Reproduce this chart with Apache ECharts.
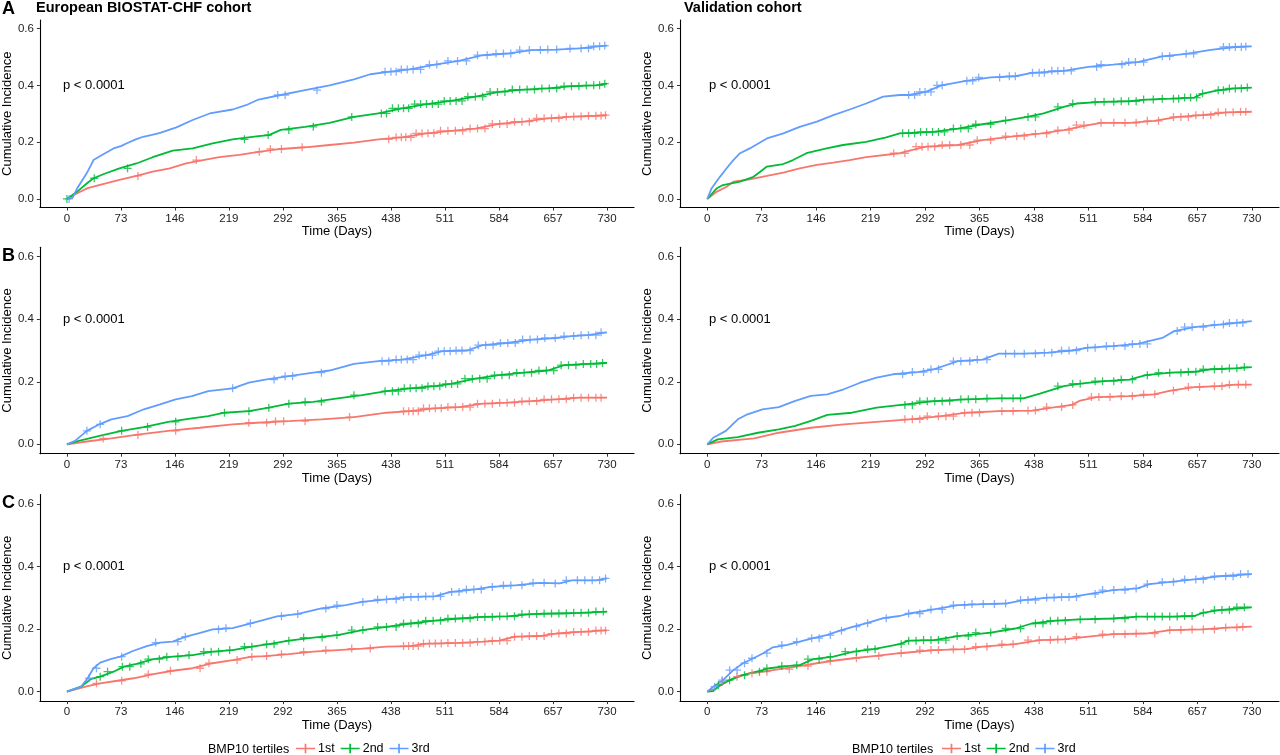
<!DOCTYPE html>
<html>
<head>
    <meta charset="utf-8">
    <title>BMP10 tertiles - cumulative incidence</title>
</head>
<body style="margin:0px;padding:0px;background:#fff;">
    <div id="main" style="width:1280px;height:755px;"></div>
    <script src="https://cdn.jsdelivr.net/npm/echarts@6.0.0/dist/echarts.min.js"></script>
    <script type="text/javascript">
    // tick labels
    var dayTicks = [0, 73, 146, 219, 292, 365, 438, 511, 584, 657, 730];
    var incTicks = [0, 0.2, 0.4, 0.6];
    var groups = ['1st', '2nd', '3rd'];

    // curves: [day, cumulative incidence]
    // row A
    var biostatA_1st = [[0,0],[14,0.020],[28,0.038],[50,0.053],[71,0.067],[94,0.081],[116,0.096],[139,0.108],[161,0.125],[184,0.137],[206,0.147],[233,0.155],[259,0.166],[289,0.176],[322,0.182],[355,0.190],[388,0.198],[421,0.210],[453,0.217],[486,0.231],[519,0.240],[552,0.248],[584,0.264],[617,0.272],[650,0.284],[683,0.290],[715,0.293],[730,0.295]];
    var biostatA_2nd = [[0,0],[14,0.026],[28,0.057],[36,0.073],[50,0.088],[71,0.108],[94,0.125],[116,0.147],[143,0.170],[170,0.178],[197,0.196],[224,0.210],[259,0.221],[273,0.225],[289,0.243],[322,0.254],[355,0.268],[388,0.289],[421,0.301],[453,0.319],[486,0.334],[519,0.345],[552,0.360],[584,0.377],[617,0.385],[650,0.389],[683,0.397],[715,0.400],[730,0.406]];
    var biostatA_3rd = [[0,0],[8,0.006],[14,0.038],[28,0.096],[36,0.137],[45,0.151],[63,0.178],[73,0.186],[81,0.196],[93,0.210],[103,0.219],[115,0.226],[126,0.233],[148,0.252],[170,0.278],[193,0.301],[224,0.315],[242,0.330],[259,0.350],[289,0.366],[322,0.383],[355,0.400],[388,0.421],[410,0.439],[437,0.448],[464,0.456],[497,0.473],[530,0.486],[562,0.506],[595,0.512],[628,0.524],[661,0.526],[693,0.530],[721,0.538],[730,0.540]];
    var validA_1st = [[0,0],[13,0.026],[26,0.043],[35,0.061],[57,0.069],[80,0.081],[102,0.093],[124,0.108],[147,0.120],[169,0.128],[191,0.137],[213,0.147],[258,0.161],[293,0.184],[336,0.190],[369,0.207],[413,0.221],[446,0.230],[478,0.242],[511,0.260],[528,0.268],[566,0.268],[599,0.275],[631,0.289],[664,0.295],[697,0.305],[730,0.307]];
    var validA_2nd = [[0,0],[13,0.038],[21,0.049],[44,0.061],[62,0.078],[71,0.096],[80,0.114],[102,0.123],[115,0.137],[133,0.161],[160,0.178],[182,0.190],[213,0.201],[240,0.217],[258,0.231],[303,0.236],[336,0.248],[369,0.263],[402,0.277],[429,0.289],[451,0.301],[478,0.324],[495,0.336],[528,0.342],[566,0.344],[588,0.350],[621,0.353],[653,0.357],[664,0.371],[686,0.383],[708,0.389],[730,0.392]];
    var validA_3rd = [[0,0],[6,0.038],[17,0.078],[26,0.108],[35,0.137],[44,0.161],[57,0.178],[80,0.213],[102,0.231],[124,0.254],[147,0.272],[169,0.295],[191,0.315],[213,0.336],[236,0.360],[258,0.366],[271,0.366],[293,0.377],[314,0.400],[347,0.416],[380,0.428],[413,0.432],[435,0.444],[478,0.451],[511,0.465],[544,0.473],[577,0.482],[610,0.502],[642,0.511],[675,0.525],[708,0.535],[730,0.537]];
    // row B
    var biostatB_1st = [[0,0],[27,0.009],[60,0.019],[93,0.030],[137,0.043],[180,0.053],[224,0.064],[257,0.069],[300,0.074],[344,0.080],[388,0.087],[432,0.101],[464,0.106],[497,0.115],[530,0.119],[562,0.130],[595,0.133],[628,0.138],[661,0.144],[693,0.149],[730,0.149]];
    var biostatB_2nd = [[0,0],[16,0.011],[44,0.027],[74,0.043],[104,0.055],[137,0.072],[169,0.083],[191,0.090],[213,0.101],[246,0.106],[273,0.117],[300,0.130],[333,0.136],[366,0.147],[399,0.157],[432,0.170],[464,0.179],[497,0.186],[519,0.193],[552,0.210],[584,0.221],[617,0.229],[650,0.236],[672,0.253],[704,0.257],[730,0.260]];
    var biostatB_3rd = [[0,0],[11,0.011],[27,0.043],[44,0.064],[60,0.080],[82,0.090],[104,0.112],[126,0.128],[147,0.144],[169,0.154],[191,0.170],[224,0.179],[246,0.197],[268,0.207],[300,0.218],[333,0.229],[355,0.236],[388,0.257],[421,0.266],[453,0.271],[486,0.285],[508,0.298],[541,0.300],[562,0.317],[595,0.324],[628,0.335],[661,0.340],[682,0.346],[704,0.349],[730,0.358]];
    var validB_1st = [[0,0],[19,0.009],[63,0.019],[96,0.037],[139,0.053],[183,0.064],[227,0.072],[271,0.080],[314,0.090],[347,0.101],[391,0.106],[435,0.108],[467,0.119],[489,0.126],[500,0.140],[522,0.151],[566,0.154],[599,0.160],[621,0.172],[653,0.183],[686,0.186],[708,0.191],[730,0.191]];
    var validB_2nd = [[0,0],[14,0.016],[41,0.023],[68,0.037],[96,0.048],[118,0.059],[139,0.075],[161,0.094],[194,0.101],[227,0.117],[260,0.126],[304,0.138],[347,0.144],[391,0.147],[424,0.147],[446,0.162],[478,0.186],[500,0.194],[533,0.202],[566,0.207],[588,0.221],[621,0.229],[653,0.232],[675,0.240],[708,0.243],[730,0.247]];
    var validB_3rd = [[0,0],[8,0.021],[25,0.043],[41,0.080],[52,0.094],[74,0.112],[96,0.119],[118,0.139],[139,0.155],[161,0.160],[183,0.176],[205,0.197],[227,0.213],[249,0.224],[282,0.231],[304,0.240],[336,0.266],[369,0.271],[391,0.290],[424,0.290],[457,0.293],[489,0.300],[511,0.309],[544,0.314],[577,0.321],[610,0.340],[626,0.362],[653,0.375],[686,0.383],[708,0.388],[730,0.394]];
    // row C
    var biostatC_1st = [[0,0],[28,0.018],[45,0.027],[68,0.035],[90,0.043],[117,0.056],[143,0.067],[170,0.075],[197,0.091],[224,0.101],[250,0.112],[268,0.114],[300,0.120],[333,0.128],[366,0.133],[399,0.138],[432,0.144],[464,0.146],[486,0.154],[530,0.156],[562,0.160],[584,0.163],[606,0.176],[639,0.178],[661,0.186],[693,0.191],[730,0.196]];
    var biostatC_2nd = [[0,0],[19,0.016],[32,0.040],[45,0.048],[63,0.064],[77,0.080],[94,0.089],[117,0.104],[143,0.112],[170,0.117],[197,0.128],[224,0.133],[250,0.144],[273,0.152],[300,0.163],[333,0.173],[366,0.181],[399,0.197],[432,0.207],[464,0.218],[497,0.227],[530,0.234],[562,0.239],[595,0.241],[628,0.248],[661,0.250],[693,0.252],[730,0.256]];
    var biostatC_3rd = [[0,0],[19,0.016],[28,0.043],[36,0.075],[45,0.093],[59,0.104],[72,0.112],[90,0.131],[108,0.146],[126,0.157],[143,0.160],[161,0.176],[179,0.187],[197,0.199],[224,0.203],[250,0.219],[284,0.241],[311,0.248],[344,0.266],[377,0.277],[399,0.287],[432,0.295],[464,0.303],[497,0.305],[519,0.319],[552,0.327],[573,0.335],[606,0.340],[639,0.348],[666,0.346],[682,0.356],[715,0.356],[730,0.362]];
    var validC_1st = [[0,0],[12,0.011],[26,0.032],[39,0.048],[57,0.059],[75,0.064],[97,0.072],[124,0.082],[147,0.091],[169,0.099],[196,0.107],[223,0.114],[258,0.123],[304,0.133],[347,0.136],[369,0.144],[413,0.152],[446,0.165],[478,0.167],[511,0.176],[544,0.184],[588,0.186],[621,0.197],[664,0.199],[697,0.205],[730,0.208]];
    var validC_2nd = [[0,0],[8,0.002],[17,0.021],[30,0.037],[48,0.053],[66,0.064],[84,0.075],[106,0.082],[124,0.085],[142,0.104],[169,0.112],[196,0.128],[223,0.136],[258,0.152],[270,0.163],[304,0.165],[336,0.178],[380,0.189],[413,0.202],[435,0.218],[467,0.227],[500,0.231],[544,0.234],[577,0.240],[621,0.240],[653,0.242],[664,0.252],[686,0.261],[730,0.270]];
    var validC_3rd = [[0,0],[8,0.016],[21,0.037],[35,0.069],[48,0.091],[62,0.107],[75,0.123],[88,0.142],[106,0.149],[124,0.160],[142,0.171],[160,0.181],[178,0.195],[196,0.208],[214,0.219],[236,0.235],[258,0.242],[271,0.250],[304,0.263],[336,0.277],[369,0.280],[402,0.282],[424,0.293],[457,0.301],[489,0.303],[511,0.312],[544,0.325],[577,0.330],[593,0.344],[621,0.351],[653,0.359],[686,0.369],[730,0.376]];

    // censoring times (days) read from the "+" marks
    var biostatA_1st_cens = [96,175,260,275,290,318,435,445,452,458,465,472,480,488,496,505,515,525,535,545,555,565,575,585,595,605,615,625,635,645,655,665,675,685,695,705,715,722,728];
    var biostatA_2nd_cens = [0,37,82,240,272,300,333,385,425,432,440,448,455,462,470,478,486,494,502,510,518,526,534,542,552,562,572,582,592,602,612,622,632,642,652,662,672,682,692,702,712,720,727];
    var biostatA_3rd_cens = [3,285,295,338,430,438,445,452,460,468,478,490,500,515,528,540,555,568,580,590,600,612,625,640,650,662,680,695,705,712,720,727];
    var validA_1st_cens = [250,265,280,288,296,305,315,325,340,352,362,380,400,415,425,440,455,470,485,495,505,528,545,560,575,590,605,625,635,645,655,665,675,685,695,705,715,722];
    var validA_2nd_cens = [262,270,278,286,294,302,310,318,330,340,350,360,380,400,430,440,470,490,520,532,545,555,565,575,585,598,610,625,632,640,648,656,664,685,692,700,708,716,724];
    var validA_3rd_cens = [270,278,285,292,300,308,315,348,356,364,392,405,413,436,445,452,462,470,478,488,522,528,556,565,574,585,610,620,642,652,692,700,708,716,722];
    var biostatB_1st_cens = [49,96,147,246,270,282,293,322,382,455,462,468,475,482,490,498,506,515,525,535,545,555,565,575,585,595,605,615,625,635,645,655,665,675,685,695,705,715,722];
    var biostatB_2nd_cens = [74,109,147,213,246,273,300,322,344,388,430,440,448,456,464,472,480,488,496,504,512,520,528,538,548,558,568,578,588,598,608,618,628,638,648,658,668,678,688,698,708,716,724];
    var biostatB_3rd_cens = [27,45,224,280,295,305,344,426,435,445,452,460,468,476,485,494,502,510,518,526,534,545,556,566,576,586,596,606,616,626,636,646,660,672,685,695,705,715,722];
    var validB_1st_cens = [265,275,285,295,310,320,330,345,355,365,395,410,430,440,455,475,490,515,525,540,555,570,585,600,625,645,660,680,690,700,712,722];
    var validB_2nd_cens = [265,275,285,295,305,315,325,340,350,360,375,395,410,420,470,490,500,520,530,545,555,570,590,605,620,635,645,655,665,680,690,700,710,720];
    var validB_3rd_cens = [262,275,290,300,310,330,340,352,362,375,400,412,425,440,452,462,475,485,495,510,520,535,545,560,570,580,590,630,640,650,665,680,692,700,710,718];
    var biostatC_1st_cens = [40,74,110,140,180,192,230,250,270,290,320,350,385,410,455,462,468,475,482,490,498,506,515,525,535,545,555,565,575,585,595,605,615,625,635,645,655,665,675,685,695,705,715,722,728];
    var biostatC_2nd_cens = [45,55,75,85,100,110,125,135,150,165,185,195,205,220,240,250,270,280,300,320,345,365,385,400,420,432,445,455,465,475,485,495,505,515,525,535,545,555,565,575,585,595,605,615,625,635,645,655,665,675,685,695,705,715,725];
    var biostatC_3rd_cens = [30,40,74,120,150,160,205,215,248,290,312,350,365,400,420,432,445,455,465,475,485,495,505,520,530,540,550,560,575,590,600,615,630,645,660,675,690,700,710,720,728];
    var validC_1st_cens = [20,40,60,80,110,135,165,200,230,260,285,300,310,330,345,360,375,395,410,430,445,460,470,480,495,530,545,560,575,600,620,635,650,665,680,695,710,718];
    var validC_2nd_cens = [15,30,50,70,80,100,120,135,150,165,185,200,215,225,260,270,280,290,300,310,320,335,350,360,380,400,420,440,450,460,470,480,500,520,545,560,575,590,600,610,620,630,640,650,665,680,690,700,710,720];
    var validC_3rd_cens = [10,20,30,40,50,60,80,100,120,140,150,165,180,200,215,240,270,285,300,315,330,345,355,370,385,400,420,430,440,455,465,475,485,495,520,530,545,560,575,590,610,625,640,655,665,680,695,705,715,725];

    var colors = ['#F8766D', '#00BA38', '#619CFF'];
    var fontFam = '"Liberation Sans", Arial, sans-serif';
    var plusPath = 'path://M0,4.2H10V5.8H0Z M4.2,0H5.8V10H4.2Z';

    var panels = [
        {grid: {left: 34, top: 20, width: 600, height: 187.5},
         curves: [biostatA_1st, biostatA_2nd, biostatA_3rd], cens: [biostatA_1st_cens, biostatA_2nd_cens, biostatA_3rd_cens]},
        {grid: {left: 680, top: 20, width: 599, height: 187.5},
         curves: [validA_1st, validA_2nd, validA_3rd], cens: [validA_1st_cens, validA_2nd_cens, validA_3rd_cens]},
        {grid: {left: 34, top: 247.3, width: 600, height: 206.4},
         curves: [biostatB_1st, biostatB_2nd, biostatB_3rd], cens: [biostatB_1st_cens, biostatB_2nd_cens, biostatB_3rd_cens]},
        {grid: {left: 680, top: 247.3, width: 599, height: 206.4},
         curves: [validB_1st, validB_2nd, validB_3rd], cens: [validB_1st_cens, validB_2nd_cens, validB_3rd_cens]},
        {grid: {left: 34, top: 494.6, width: 600, height: 206.5},
         curves: [biostatC_1st, biostatC_2nd, biostatC_3rd], cens: [biostatC_1st_cens, biostatC_2nd_cens, biostatC_3rd_cens]},
        {grid: {left: 680, top: 494.6, width: 599, height: 206.5},
         curves: [validC_1st, validC_2nd, validC_3rd], cens: [validC_1st_cens, validC_2nd_cens, validC_3rd_cens]}
    ];

    // the curve reading closest in time to a censoring day
    function nearestValue(curve, day) {
        var best = curve[0];
        for (var i = 1; i < curve.length; i++) {
            if (Math.abs(curve[i][0] - day) < Math.abs(best[0] - day)) best = curve[i];
        }
        return best[1];
    }

    var grids = [], xAxes = [], yAxes = [], series = [], graphics = [];

    panels.forEach(function (p, k) {
        grids.push(p.grid);
        xAxes.push({
            gridIndex: k, type: 'value', min: -36.5, max: 766.5,
            splitLine: {show: false},
            axisLine: {show: true, onZero: false, lineStyle: {color: '#000', width: 1.1}},
            axisTick: {show: true, length: 3, customValues: dayTicks, lineStyle: {color: '#333'}},
            axisLabel: {customValues: dayTicks, margin: 5, fontSize: 11.5, color: '#222', fontFamily: fontFam},
            name: 'Time (Days)', nameLocation: 'middle', nameGap: 17,
            nameTextStyle: {fontSize: 13, color: '#000', fontFamily: fontFam}
        });
        yAxes.push({
            gridIndex: k, type: 'value', min: -0.03, max: 0.63,
            splitLine: {show: false},
            axisLine: {show: true, onZero: false, lineStyle: {color: '#000', width: 1.1}},
            axisTick: {show: true, length: 3, customValues: incTicks, lineStyle: {color: '#333'}},
            axisLabel: {customValues: incTicks, margin: 6, fontSize: 11.5, color: '#222', fontFamily: fontFam,
                formatter: function (v) { return v.toFixed(1); }},
            name: 'Cumulative Incidence', nameLocation: 'middle', nameGap: 20.5,
            nameTextStyle: {fontSize: 13, color: '#000', fontFamily: fontFam}
        });
        p.curves.forEach(function (c, g) {
            series.push({
                name: groups[g], type: 'line', xAxisIndex: k, yAxisIndex: k,
                showSymbol: false, symbol: 'none', data: c,
                lineStyle: {color: colors[g], width: 1.8}, itemStyle: {color: colors[g]},
                silent: true, animation: false
            });
            series.push({
                name: 'cens' + g, type: 'scatter', xAxisIndex: k, yAxisIndex: k,
                symbol: plusPath, symbolSize: 8,
                data: p.cens[g].map(function (d) { return [d, nearestValue(c, d)]; }),
                itemStyle: {color: colors[g]}, silent: true, animation: false, z: 3
            });
        });
        // p-value annotation at the 0.4 level
        graphics.push({
            type: 'text', left: p.grid.left + 29, top: p.grid.top + p.grid.height * (0.23 / 0.66) - 6.5,
            style: {text: 'p < 0.0001', fontSize: 13, fill: '#000', fontFamily: fontFam}
        });
    });

    graphics.push(
        {type: 'text', left: 2, top: 0, style: {text: 'A', fontSize: 18, fontWeight: 'bold', fill: '#000', fontFamily: fontFam}},
        {type: 'text', left: 2, top: 247, style: {text: 'B', fontSize: 18, fontWeight: 'bold', fill: '#000', fontFamily: fontFam}},
        {type: 'text', left: 2, top: 494, style: {text: 'C', fontSize: 18, fontWeight: 'bold', fill: '#000', fontFamily: fontFam}},
        {type: 'text', left: 36, top: 0, style: {text: 'European BIOSTAT-CHF cohort', fontSize: 14.5, fontWeight: 'bold', fill: '#000', fontFamily: fontFam}},
        {type: 'text', left: 684, top: 0, style: {text: 'Validation cohort', fontSize: 14.5, fontWeight: 'bold', fill: '#000', fontFamily: fontFam}},
        {type: 'text', left: 208, top: 743, style: {text: 'BMP10 tertiles', fontSize: 12.5, fill: '#000', fontFamily: fontFam}},
        {type: 'text', left: 852, top: 743, style: {text: 'BMP10 tertiles', fontSize: 12.5, fill: '#000', fontFamily: fontFam}}
    );

    var legendBase = {
        data: groups, top: 742, orient: 'horizontal', padding: 0,
        icon: 'path://M0,4.1H20V5.9H0Z M9.1,0H10.9V10H9.1Z',
        itemWidth: 19, itemHeight: 10, itemGap: 6, selectedMode: false,
        textStyle: {fontSize: 12.5, color: '#000', fontFamily: fontFam, padding: [0, 0, 0, -2]}
    };

    var myChart = echarts.init(document.getElementById('main'));
    var option = {
        backgroundColor: '#fff',
        animation: false,
        color: colors,
        grid: grids,
        xAxis: xAxes,
        yAxis: yAxes,
        legend: [
            Object.assign({}, legendBase, {left: 296}),
            Object.assign({}, legendBase, {left: 942})
        ],
        graphic: graphics,
        series: series
    };
    myChart.setOption(option);
    </script>
</body>
</html>
